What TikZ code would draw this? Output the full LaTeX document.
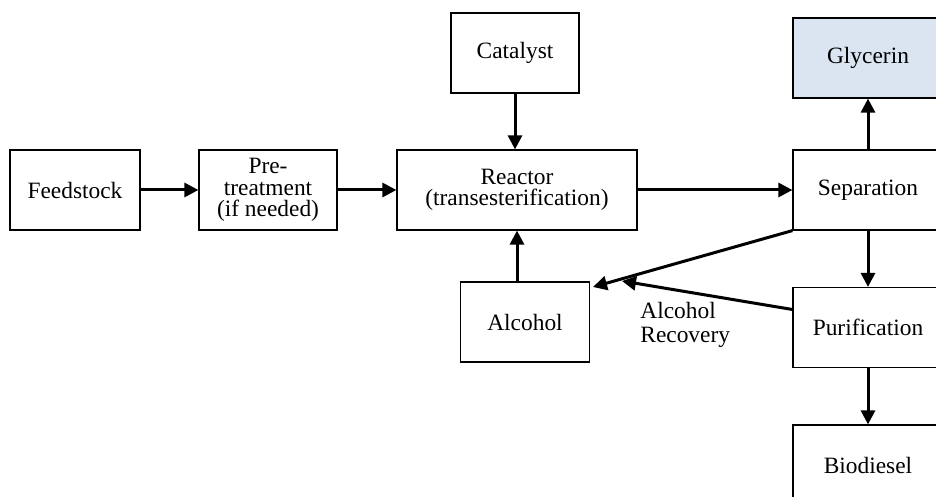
\documentclass[tikz,border=0pt]{standalone}
\usepackage{fontspec}
\setmainfont{Liberation Serif}
\usetikzlibrary{arrows.meta}
\definecolor{GlyBlue}{HTML}{DBE5F1}

\begin{document}
\begin{tikzpicture}[x=0.5pt,y=-0.5pt,
    stagebox/.style={draw=black,line width=0.6pt,align=center,inner sep=2pt,
      minimum height=40pt,font=\fontsize{11.7}{10.8}\selectfont},
    sidebox/.style={stagebox,minimum width=75pt},
    flow/.style={-{Triangle[length=7pt,width=7pt]},line width=1.5pt}]
  \clip (0,0) rectangle (936,497);
  % main line
  \node[stagebox,minimum width=65pt] (feed) at (75,190) {Feedstock};
  \node[stagebox,minimum width=69pt] (pre) at (268,190) {Pre-\\treatment\\(if needed)};
  \node[stagebox,minimum width=120pt] (reactor) at (517,190) {Reactor\\(transesterification)};
  \node[stagebox,minimum width=64pt] (cat) at (515,53) {Catalyst};
  \node[stagebox,minimum width=64.5pt] (alc) at (525,322) {Alcohol};
  % products column
  \node[sidebox,fill=GlyBlue] (gly) at (868,58) {Glycerin};
  \node[sidebox] (sep) at (868,190) {Separation};
  \node[sidebox] (purif) at (868,327.5) {Purification};
  \node[sidebox] (bio) at (868,465) {Biodiesel};
  \node[anchor=west,align=left,inner sep=0pt,font=\fontsize{11.7}{12}\selectfont] (reclab) at (640,325) {Alcohol\\Recovery};
  \coordinate (alcin) at (593,287);
  \coordinate (recin) at (622,281);

  \draw[flow] (feed) -- (pre);
  \draw[flow] (pre) -- (reactor);
  \draw[flow] (reactor) -- (sep);
  \draw[flow] (cat) -- (cat |- reactor.north);
  \draw[flow] ([xshift=-4pt]alc.north) -- (reactor.south);
  \draw[flow] (sep) -- (gly);
  \draw[flow] (sep) -- (purif);
  \draw[flow] (purif) -- (bio);
  \draw[flow] (sep.south west) -- (alcin);
  \draw[flow] ([yshift=9pt]purif.west) -- (recin);
\end{tikzpicture}
\end{document}
